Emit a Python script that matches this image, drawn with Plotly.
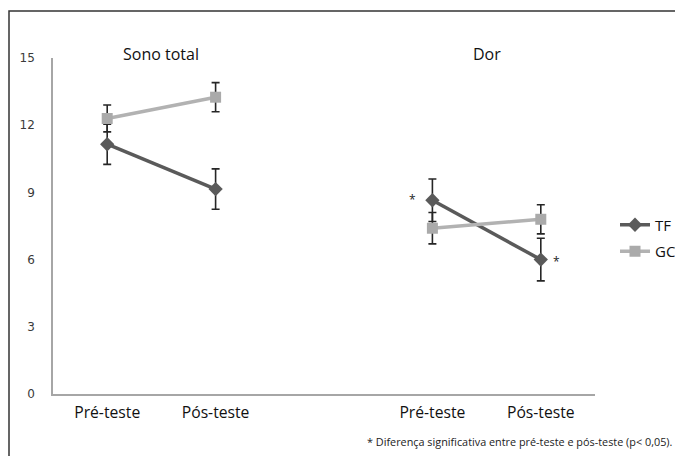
import plotly.graph_objects as go

groups = ["Sono total", "Dor"]
phases = ["Pré-teste", "Pós-teste"]

tf_values = {"Sono total": [11.15, 9.15], "Dor": [8.65, 6.0]}
tf_errors = {"Sono total": [0.9, 0.9], "Dor": [0.95, 0.95]}
gc_values = {"Sono total": [12.3, 13.25], "Dor": [7.4, 7.8]}
gc_errors = {"Sono total": [0.6, 0.65], "Dor": [0.7, 0.65]}

y_ticks = [0, 3, 6, 9, 12, 15]
footnote = "* Diferença significativa entre pré-teste e pós-teste (p< 0,05)."
significant_tf = [("Dor", 0, -20, 1), ("Dor", 1, 16, -2)]

# page offset (browser body margin)
OFF = 8

def xpos(gi, pi):
    return gi * (len(phases) + 1) + pi

def build(values, errors):
    xs, ys, es = [], [], []
    for gi, g in enumerate(groups):
        if gi > 0:
            xs.append(None); ys.append(None); es.append(None)
        for pi, _ in enumerate(phases):
            xs.append(xpos(gi, pi))
            ys.append(values[g][pi])
            es.append(errors[g][pi])
    return xs, ys, es

fig = go.Figure()

x, y, e = build(tf_values, tf_errors)
fig.add_trace(go.Scatter(
    x=x, y=y, name="TF", mode="lines+markers", legendgroup="tf",
    line=dict(color="#5a5a5a", width=3.5),
    marker=dict(symbol="diamond", size=11, color="#5a5a5a"),
    error_y=dict(type="data", array=e, visible=True, color="#262626", thickness=1.6, width=4),
    connectgaps=False,
))
x, y, e = build(gc_values, gc_errors)
fig.add_trace(go.Scatter(
    x=x, y=y, name="GC", mode="lines+markers", legendgroup="gc",
    line=dict(color="#b2b2b2", width=3.5),
    marker=dict(symbol="square", size=11, color="#aaaaaa"),
    error_y=dict(type="data", array=e, visible=True, color="#262626", thickness=1.6, width=4),
    connectgaps=False,
))

tickvals, ticktext = [], []
for gi, g in enumerate(groups):
    for pi, p in enumerate(phases):
        tickvals.append(xpos(gi, pi))
        ticktext.append(p)

# layout in page pixels (reference), converted to figure pixels
W, H = 683 - OFF, 456 - OFF
plot_left, plot_right, plot_top, plot_bottom = 53 - OFF, 595 - OFF, 58 - OFF, 394 - OFF
L, R, T, B = plot_left, W - plot_right, plot_top, H - plot_bottom
pw, ph = plot_right - plot_left, plot_bottom - plot_top

def px_x(px):
    return (px - OFF - plot_left) / pw

def px_y(py):
    return (plot_bottom - (py - OFF)) / ph

annotations = []
for gi, g in enumerate(groups):
    annotations.append(dict(
        x=(xpos(gi, 0) + xpos(gi, 1)) / 2, xref="x", y=px_y(54), yref="paper",
        text=g, showarrow=False, yanchor="middle",
        font=dict(family="Open Sans", size=16, color="#111111"),
    ))
for g, pi, dx, dy in significant_tf:
    annotations.append(dict(
        x=xpos(groups.index(g), pi), y=tf_values[g][pi], xref="x", yref="y",
        text="*", showarrow=False, xshift=dx, yshift=dy,
        font=dict(family="Open Sans", size=12, color="#222222"),
    ))
annotations.append(dict(
    x=px_x(675), xref="paper", y=px_y(441), yref="paper", text=footnote, showarrow=False,
    xanchor="right", yanchor="middle",
    font=dict(family="Open Sans", size=10.85, color="#222222"),
))

fig.update_layout(
    width=W, height=H,
    margin=dict(l=L, r=R, t=T, b=B, autoexpand=False),
    plot_bgcolor="white", paper_bgcolor="white",
    showlegend=True,
    legend=dict(
        xref="container", yref="container",
        x=(615 - OFF) / W, y=(H - (238 - OFF)) / H, xanchor="left", yanchor="middle",
        font=dict(family="Open Sans", size=15, color="#111111"),
        tracegroupgap=4, itemwidth=30, bgcolor="rgba(0,0,0,0)",
    ),
    xaxis=dict(
        range=[-0.5, len(groups) * (len(phases) + 1) - 1 - 0.5],
        tickvals=tickvals, ticktext=ticktext,
        showgrid=False, zeroline=False,
        showline=True, linecolor="#a6a6a6", linewidth=1.5,
        ticks="", ticklabelstandoff=3,
        tickfont=dict(family="Open Sans", size=15.7, color="#111111"),
    ),
    yaxis=dict(
        range=[0, 15], tickvals=y_ticks,
        showgrid=False, zeroline=False,
        showline=True, linecolor="#a6a6a6", linewidth=1.5,
        ticks="", ticklabelstandoff=14,
        tickfont=dict(family="DejaVu Sans", size=12, color="#3a3a3a"),
    ),
    annotations=annotations,
    shapes=[dict(
        type="rect", xref="paper", yref="paper",
        x0=px_x(9), x1=px_x(720), y0=px_y(11), y1=px_y(500),
        line=dict(color="#333333", width=1.5), fillcolor="rgba(0,0,0,0)",
        layer="above",
    )],
)

fig.write_html("out.html")
